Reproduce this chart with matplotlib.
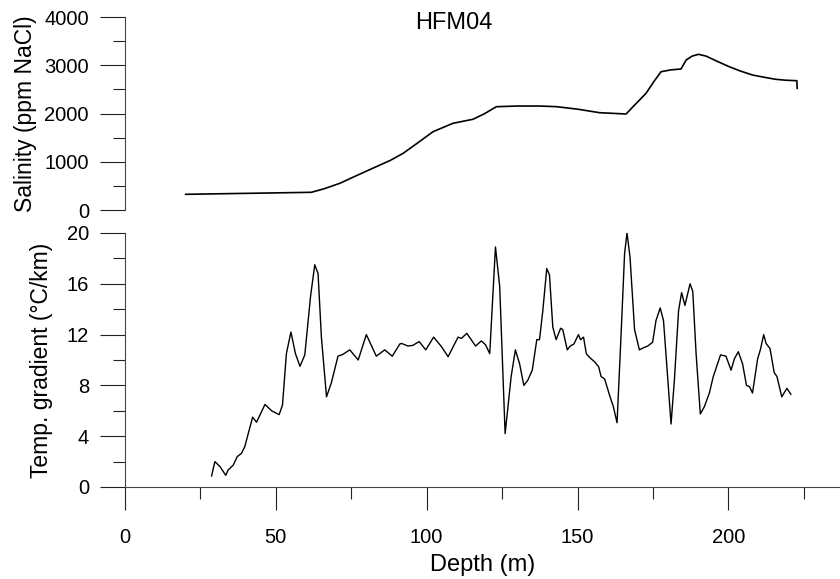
import matplotlib
matplotlib.use('Agg')
import matplotlib.pyplot as plt
from matplotlib.ticker import MultipleLocator
import numpy as np

plt.rcParams['font.family'] = ['Liberation Sans', 'DejaVu Sans']

# Salinity profile (depth in m, ppm NaCl)
sal_depth = [20.1, 30, 40, 50, 61.8, 66, 71.2, 77, 83.3, 88, 92.2, 97, 102.1, 108.7,
             115.3, 119, 123.1, 130, 137.4, 143, 150, 157.3, 166.1, 169, 172.7, 175.5,
             177.7, 181, 184.3, 186, 188, 190.1, 192.6, 196, 200.3, 204, 208, 212,
             215.7, 219, 222.7, 222.8]
salinity = [325, 335, 345, 355, 367, 440, 553, 720, 898, 1030, 1175, 1390, 1623, 1797,
            1880, 1990, 2141, 2155, 2155, 2142, 2090, 2017, 1990, 2180, 2418, 2680,
            2867, 2905, 2922, 3109, 3190, 3227, 3190, 3090, 2970, 2880, 2798, 2750,
            2709, 2690, 2680, 2522]

# Temperature gradient profile (depth in m, degC/km)
tg_depth = [28.7, 29.8, 31.5, 33.4, 34.2, 35.9, 37.2, 38.6, 39.7, 42.3, 43.6, 46.4,
            48.6, 51.1, 52.2, 53.5, 55.0, 56.5, 58.0, 59.6, 61.5, 62.9, 64.0, 65.1,
            66.8, 68.4, 70.6, 72.3, 74.5, 77.3, 80.0, 83.3, 86.1, 88.6, 91.1, 91.7,
            93.8, 95.4, 97.5, 99.7, 102.3, 104.9, 107.1, 110.4, 111.5, 113.3, 116.2,
            118.1, 119.5, 120.9, 122.8, 124.2, 126.0, 128.0, 129.4, 130.8, 132.2,
            133.5, 135.0, 136.5, 137.4, 138.5, 139.8, 140.7, 141.8, 142.9, 144.4,
            145.1, 146.6, 147.6, 148.8, 150.3, 151.0, 152.0, 152.9, 154.0, 155.6,
            157.0, 157.8, 159.0, 160.6, 161.9, 163.1, 164.4, 165.6, 166.4, 167.4,
            168.9, 170.5, 172.2, 173.3, 174.9, 176.0, 177.4, 178.5, 179.7, 181.0,
            182.1, 183.5, 184.5, 185.6, 187.3, 188.2, 189.3, 190.7, 192.0, 193.7,
            195.0, 197.4, 199.2, 200.9, 202.0, 203.3, 204.7, 206.0, 207.0, 208.0,
            209.7, 210.6, 211.7, 212.5, 213.8, 215.2, 216.1, 217.7, 219.4, 220.7]
temp_grad = [0.87, 2.0, 1.6, 0.92, 1.34, 1.73, 2.39, 2.65, 3.17, 5.5, 5.1, 6.5,
             6.0, 5.7, 6.45, 10.5, 12.2, 10.5, 9.5, 10.4, 15.0, 17.5, 16.8, 11.8,
             7.1, 8.2, 10.3, 10.45, 10.8, 10.0, 12.0, 10.3, 10.8, 10.3, 11.26, 11.3,
             11.1, 11.15, 11.45, 10.8, 11.8, 11.05, 10.26, 11.8, 11.7, 12.1, 11.1,
             11.5, 11.2, 10.5, 18.9, 15.8, 4.2, 8.7, 10.8, 9.7, 8.0,
             8.4, 9.2, 11.6, 11.6, 13.9, 17.2, 16.7, 12.6, 11.6, 12.5,
             12.4, 10.8, 11.1, 11.26, 12.0, 11.6, 11.8, 10.5, 10.2, 9.87,
             9.47, 8.7, 8.5, 7.24, 6.3, 5.06, 11.8, 18.4, 20.0, 18.1,
             12.4, 10.8, 11.0, 11.1, 11.4, 13.1, 14.1, 13.1, 9.2, 4.96,
             8.4, 13.9, 15.3, 14.3, 16.0, 15.4, 10.5, 5.75, 6.3, 7.4,
             8.7, 10.4, 10.3, 9.2, 10.1, 10.65, 9.7, 8.0, 7.9, 7.4,
             10.1, 10.8, 12.0, 11.3, 10.9, 9.0, 8.7, 7.1, 7.77, 7.3]

fig = plt.figure(figsize=(8.4, 5.79), dpi=100)
ax1 = fig.add_axes([0.1488, 0.6373, 0.8512, 0.3333])
ax2 = fig.add_axes([0.1488, 0.1589, 0.8512, 0.4387])

ax1.plot(sal_depth, salinity, color='black', lw=1.2)
ax2.plot(tg_depth, temp_grad, color='black', lw=1.0)

for ax in (ax1, ax2):
    ax.set_xlim(0, 237)
    ax.spines['top'].set_visible(False)
    ax.spines['right'].set_visible(False)
    ax.spines['left'].set_color('#444444')
    ax.spines['bottom'].set_color('#444444')
    ax.tick_params(which='major', direction='out', length=18, width=0.8,
                   color='#222222', labelsize=14.5)
    ax.tick_params(which='minor', direction='out', length=8.6, width=0.8,
                   color='#222222')
    ax.tick_params(axis='y', pad=8)

ax1.spines['bottom'].set_visible(False)
ax1.set_ylim(0, 4000)
ax1.yaxis.set_major_locator(MultipleLocator(1000))
ax1.yaxis.set_minor_locator(MultipleLocator(500))
ax1.set_xticks([])
ax1.set_ylabel('Salinity (ppm NaCl)', fontsize=16.5)
ax1.yaxis.set_label_coords(-0.123, 0.5)
ax1.text(109, 3880, 'HFM04', ha='center', va='center', fontsize=17)

ax2.set_ylim(0, 20)
ax2.yaxis.set_major_locator(MultipleLocator(4))
ax2.yaxis.set_minor_locator(MultipleLocator(2))
ax2.xaxis.set_major_locator(MultipleLocator(50))
ax2.xaxis.set_minor_locator(MultipleLocator(25))
ax2.tick_params(axis='x', which='major', length=16.6, pad=13)
ax2.set_ylabel('Temp. gradient (\u00b0C/km)', fontsize=16.5)
ax2.yaxis.set_label_coords(-0.1007, 0.5)
ax2.set_xlabel('Depth (m)', fontsize=17, labelpad=5)

fig.savefig('out.png', dpi=100)
